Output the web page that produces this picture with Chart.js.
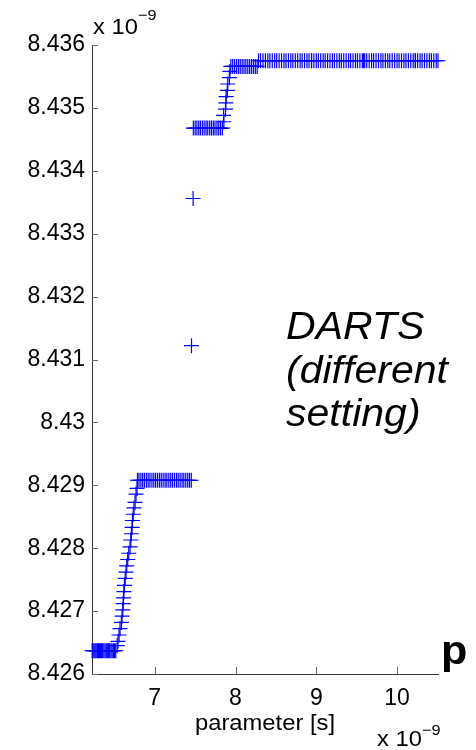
<!DOCTYPE html>
<html>
<head>
<meta charset="utf-8">
<script src="https://cdn.jsdelivr.net/npm/chart.js@4.4.1/dist/chart.umd.min.js"></script>
<style>
  html, body { margin: 0; padding: 0; background: #fff; }
  #plot { display: block; }
</style>
</head>
<body>
<canvas id="plot" width="476" height="750"></canvas>
<script>
// axis setup (values in units of 1e-9)
const xTicks = [7, 8, 9, 10];
const yTicks = [8.426, 8.427, 8.428, 8.429, 8.430, 8.431, 8.432, 8.433, 8.434, 8.435, 8.436];
const yTickLabels = ['8.426', '8.427', '8.428', '8.429', '8.43', '8.431', '8.432', '8.433', '8.434', '8.435', '8.436'];
const xLimits = [6.223, 10.507];
const yLimits = [8.426, 8.436];

// low plateau
const lowFlatX = [6.225, 6.237, 6.25, 6.262, 6.275, 6.29, 6.302, 6.315, 6.33, 6.342, 6.355, 6.37, 6.385, 6.4, 6.412, 6.428, 6.442, 6.458, 6.472, 6.488, 6.502, 6.517];
const lowFlatY = 8.42637;

// first climb
const rampUpX = [6.535, 6.545, 6.558, 6.570, 6.587, 6.595, 6.604, 6.609, 6.613, 6.618, 6.625, 6.634, 6.644, 6.653, 6.665, 6.678, 6.694, 6.703, 6.711, 6.719, 6.724, 6.734, 6.743, 6.756, 6.768, 6.781];
const rampUpY = [8.42645, 8.42652, 8.42662, 8.42672, 8.42682, 8.42692, 8.42702, 8.42712, 8.42721, 8.42731, 8.42741, 8.42752, 8.42762, 8.42772, 8.42782, 8.42792, 8.42802, 8.42813, 8.42823, 8.42833, 8.42844, 8.42854, 8.42864, 8.42873, 8.42886, 8.42895];

// middle plateau
const plateauX = [6.786, 6.805, 6.828, 6.85, 6.872, 6.896, 6.918, 6.94, 6.965, 6.988, 7.01, 7.034, 7.058, 7.08, 7.104, 7.128, 7.15, 7.174, 7.198, 7.22, 7.244, 7.268, 7.29, 7.314, 7.338, 7.36, 7.384, 7.408, 7.43, 7.452];
const plateauY = 8.42908;

// the two points in the jump
const jumpX = [7.455, 7.475];
const jumpY = [8.43122, 8.43356];

// shelf after the jump
const shelfX = [7.478, 7.5, 7.522, 7.545, 7.566, 7.59, 7.612, 7.635, 7.656, 7.68, 7.702, 7.725, 7.746, 7.77, 7.792, 7.815, 7.838];
const shelfY = 8.43468;

// second climb
const rampTopX = [7.856, 7.852, 7.876, 7.88, 7.884, 7.899, 7.904, 7.924, 7.93];
const rampTopY = [8.43478, 8.43488, 8.43498, 8.43508, 8.43518, 8.43528, 8.43538, 8.43548, 8.43558];

// short ledge, then the final level
const ledgeX = [7.942, 7.965, 7.988, 8.012, 8.035, 8.058, 8.082, 8.105, 8.128, 8.152, 8.175, 8.198, 8.222, 8.245, 8.268];
const ledgeY = 8.43566;

const finalX = [8.285, 8.31, 8.34, 8.37, 8.40, 8.425, 8.455, 8.485, 8.51, 8.54, 8.57, 8.6, 8.625, 8.655, 8.685, 8.71, 8.74, 8.77, 8.8, 8.825, 8.855, 8.885, 8.91, 8.94, 8.942, 8.97, 9.0, 9.025, 9.055, 9.085, 9.11, 9.14, 9.17, 9.2, 9.225, 9.255, 9.285, 9.31, 9.34, 9.37, 9.4, 9.425, 9.455, 9.485, 9.51, 9.54, 9.57, 9.585, 9.6, 9.625, 9.655, 9.685, 9.71, 9.74, 9.77, 9.8, 9.825, 9.855, 9.885, 9.91, 9.94, 9.97, 10.0, 10.025, 10.055, 10.085, 10.11, 10.14, 10.17, 10.2, 10.225, 10.228, 10.255, 10.285, 10.31, 10.34, 10.37, 10.4, 10.425, 10.455, 10.485, 10.507];
const finalY = 8.43575;

const FONT = '"Liberation Sans", Arial, Helvetica, sans-serif';
const BLUE = 'rgb(0, 0, 255)';
const AXIS = '#333333';

const toPoints = (xs, ys) => xs.map((x, i) => ({ x, y: Array.isArray(ys) ? ys[i] : ys }));

const points = [
  ...toPoints(lowFlatX, lowFlatY),
  ...toPoints(rampUpX, rampUpY),
  ...toPoints(plateauX, plateauY),
  ...toPoints(jumpX, jumpY),
  ...toPoints(shelfX, shelfY),
  ...toPoints(rampTopX, rampTopY),
  ...toPoints(ledgeX, ledgeY),
  ...toPoints(finalX, finalY)
];

// text drawn slightly wider than the font's natural width
const wideText = (ctx, text, x, y, font, align = 'left', sx = 1.08) => {
  ctx.save();
  ctx.font = font;
  ctx.fillStyle = '#000';
  ctx.textAlign = align;
  ctx.textBaseline = 'alphabetic';
  ctx.translate(x, y);
  ctx.scale(sx, 1);
  ctx.fillText(text, 0, 0);
  ctx.restore();
};

// tick marks pointing into the plot, like the axes of the original figure
const inwardTicks = {
  id: 'inwardTicks',
  afterDraw(chart) {
    const { ctx, chartArea: a, scales: { x, y } } = chart;
    ctx.save();
    ctx.strokeStyle = '#666';
    ctx.lineWidth = 1;
    ctx.beginPath();
    yTicks.forEach(v => {
      const py = Math.round(y.getPixelForValue(v)) + 0.5;
      ctx.moveTo(a.left, py);
      ctx.lineTo(a.left + 6, py);
    });
    xTicks.forEach(v => {
      const px = Math.round(x.getPixelForValue(v)) + 0.5;
      ctx.moveTo(px, a.bottom);
      ctx.lineTo(px, a.bottom - 7);
    });
    ctx.stroke();
    ctx.restore();
  }
};

const annotations = {
  id: 'annotations',
  afterDraw(chart) {
    const { ctx, chartArea: a } = chart;
    // exponent labels
    wideText(ctx, 'x 10', a.left + 1, 34, `22px ${FONT}`);
    wideText(ctx, '\u22129', a.left + 46, 20, `15px ${FONT}`);
    wideText(ctx, 'x 10', 377, 746, `22px ${FONT}`);
    wideText(ctx, '\u22129', 422, 735, `15px ${FONT}`);
    // axis title
    wideText(ctx, 'parameter [s]', (a.left + a.right) / 2, 730, `22px ${FONT}`, 'center');
    // note inside the plot
    const note = `italic 38px ${FONT}`;
    wideText(ctx, 'DARTS', 286, 339, note);
    wideText(ctx, '(different', 286, 383, note);
    wideText(ctx, 'setting)', 286, 426, note);
    wideText(ctx, 'p', 441, 664, `bold 40px ${FONT}`);
  }
};

new Chart(document.getElementById('plot'), {
  type: 'scatter',
  data: {
    datasets: [{
      data: points,
      showLine: false,
      pointStyle: 'cross',
      pointRadius: 7.5,
      pointHoverRadius: 7.5,
      borderColor: BLUE,
      backgroundColor: BLUE,
      pointBorderColor: BLUE,
      pointBackgroundColor: BLUE,
      pointBorderWidth: 1.2,
      clip: false
    }]
  },
  options: {
    responsive: false,
    animation: false,
    events: [],
    layout: { padding: { top: 45, right: 38, left: 0, bottom: 0 } },
    plugins: {
      legend: { display: false },
      tooltip: { enabled: false }
    },
    scales: {
      x: {
        type: 'linear',
        min: xLimits[0],
        max: xLimits[1],
        grid: { display: false, drawTicks: false },
        border: { display: true, color: AXIS, width: 1 },
        afterBuildTicks: scale => { scale.ticks = xTicks.map(value => ({ value })); },
        afterFit: scale => { scale.height = 76; },
        ticks: {
          padding: 11,
          color: '#000',
          font: { family: FONT, size: 23 },
          maxRotation: 0,
          callback: value => String(value)
        }
      },
      y: {
        type: 'linear',
        min: yLimits[0],
        max: yLimits[1],
        grid: { display: false, drawTicks: false },
        border: { display: true, color: AXIS, width: 1 },
        afterBuildTicks: scale => { scale.ticks = yTicks.map(value => ({ value })); },
        afterFit: scale => { scale.width = 92; },
        ticks: {
          padding: 7,
          color: '#000',
          font: { family: FONT, size: 23 },
          callback: (value, index) => yTickLabels[index]
        }
      }
    }
  },
  plugins: [inwardTicks, annotations]
});
</script>
</body>
</html>
